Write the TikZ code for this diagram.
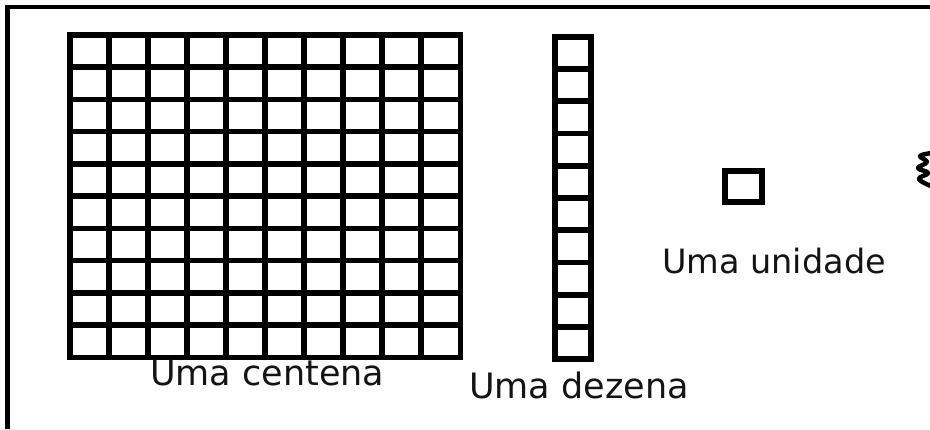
\documentclass[tikz,border=0pt]{standalone}
\usepackage{fontspec}
\setmainfont{DejaVu Sans}
\begin{document}
\begin{tikzpicture}[x=1pt,y=-1pt,
  block/.style={line width=5.6pt,line join=miter},
  label/.style={font=\fontsize{35}{40}\selectfont,anchor=base west,inner sep=0pt,text=black!92}]
\useasboundingbox (0,0) rectangle (930,429);
\fill[white] (0,0) rectangle (930,429);
% frame
\draw[line width=4.8pt] (7.5,429) -- (7.5,7) -- (930,7);
% centena: 10x10 grid
\foreach \i in {0,...,10} {
  \draw[block] ({69.8+\i*39.05},32) -- ({69.8+\i*39.05},360.3);
  \draw[block] (67,{34.8+\i*32.25}) -- (463.3,{34.8+\i*32.25});
}
% dezena
\draw[block] (554.8,36.8) rectangle (591.2,359.2);
\foreach \i in {1,...,9} {
  \draw[block] (554.8,{36.8+\i*32.24}) -- (591.2,{36.8+\i*32.24});
}
% unidade
\draw[block] (724.8,170.8) rectangle (762.2,202.2);
% squiggle at right edge
\draw[line width=4.5pt,line cap=round,line join=round] plot[smooth,tension=0.7] coordinates
  {(932,153) (920,156) (927,162) (918,168) (928,173) (919,179) (931,186)};
% labels
\node[label] (centena) at (150,385) {Uma centena};
\node[label] (dezena) at (469,398) {Uma dezena};
\node[label,font=\fontsize{33.5}{40}\selectfont] (unidade) at (662,273) {Uma unidade};
\end{tikzpicture}
\end{document}
